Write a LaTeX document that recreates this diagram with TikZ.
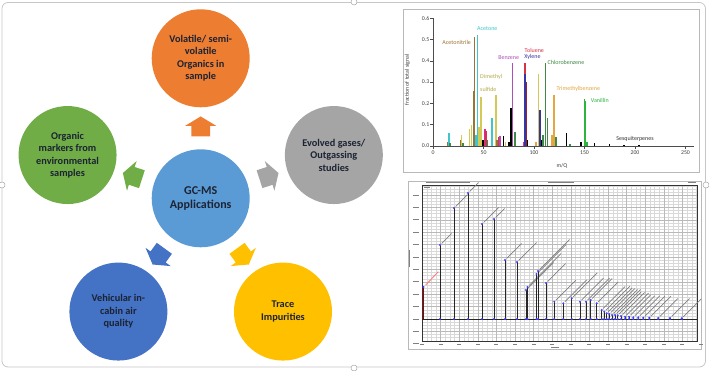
\documentclass[tikz,border=0pt]{standalone}
\usepackage{fontspec}
\setmainfont{Carlito}
\usepackage{tikz}
\usetikzlibrary{arrows,positioning,calc,shapes.arrows}

\definecolor{hubblue}{HTML}{5B9BD5}
\definecolor{orng}{HTML}{ED7D31}
\definecolor{grn}{HTML}{70AD47}
\definecolor{gry}{HTML}{A5A5A5}
\definecolor{dblue}{HTML}{4472C4}
\definecolor{gold}{HTML}{FFC000}
\definecolor{txt}{HTML}{1C2333}
%peak colours
\definecolor{pbrown}{HTML}{9A7430}
\definecolor{pcyan}{HTML}{3EC6CF}
\definecolor{pyell}{HTML}{D2CA55}
\definecolor{pmag}{HTML}{B04DB8}
\definecolor{ppink}{HTML}{E0289A}
\definecolor{pred}{HTML}{D43545}
\definecolor{pblue}{HTML}{3535A5}
\definecolor{pgreen}{HTML}{3E8A45}
\definecolor{plime}{HTML}{2DB43C}
\definecolor{porng}{HTML}{E3A640}

\tikzset{
    %Define style for circles
    topic/.style={
           circle,
           draw=none,
           minimum size=98pt,
           inner sep=0pt,
           font=\bfseries\fontsize{10.3}{12.4}\selectfont,
           text=txt,
           align=center,
           },
    hub/.style={
           topic,
           fill=hubblue,
           font=\bfseries\fontsize{12}{14}\selectfont,
           },
    %Define style for block arrows
    blockarrow/.style={
           single arrow,
           draw=none,
           inner xsep=0pt,
           inner ysep=9.15pt,
           minimum height=20pt,
           single arrow head extend=6.2pt,
           single arrow tip angle=118,
           },
    % spectrum and chromatogram
    bar/.style={line width=1.5pt},
    ticklbl/.style={font=\fontsize{5.8}{6}\selectfont, text=black!75, inner sep=1pt},
    speclbl/.style={font=\fontsize{6}{7}\selectfont, inner sep=0pt},
    chrom/.style={line width=0.6pt, black!85},
    blur/.style={line width=0.9pt, black!50},
    handle/.style={draw=gray!70, fill=white, line width=0.5pt},
}

\begin{document}
\begin{tikzpicture}[x=1pt,y=1pt,node distance=1cm]
\useasboundingbox (0,0) rectangle (709,370);
\draw[gray!45, line width=0.8pt, rounded corners=6pt] (2,3) rectangle (705.5,367.5);

 %nodes
\node[hub] (1) at (200.7,171.7) {GC-MS\\Applications};
\node[topic, fill=orng]  (2) at ($(1)+(90:140)$)  {Volatile/ semi-\\volatile\\Organics in\\sample};
\node[topic, fill=gry]   (3) at ($(1)+(18:140)$)  {Evolved gases/\\Outgassing\\studies};
\node[topic, fill=gold]  (4) at ($(1)+(306:140)$) {Trace\\Impurities};
\node[topic, fill=dblue] (5) at ($(1)+(234:140)$) {Vehicular in-\\cabin air\\quality};
\node[topic, fill=grn]   (6) at ($(1)+(162:140)$) {Organic\\markers from\\environmental\\samples};
\foreach \n/\ang/\col in {2/90/orng,3/18/gry,4/306/gold,5/234/dblue,6/162/grn}
  \node[blockarrow, fill=\col, rotate=\ang] (a\n) at ($(1)!0.493!(\n)$) {};

 %spectrum
\draw[gray!55, fill=white] (403,198) rectangle (699,361);
\begin{scope}[shift={(433,224)}, x=1.01pt, y=213pt]
  \foreach \m/\h/\c in {14.5/0.02/pbrown, 16/0.06/pcyan, 17/0.015/pgreen, 27/0.03/pbrown,
      28/0.05/pyell, 29.5/0.015/pgreen, 36/0.08/pyell, 38/0.10/pyell, 40.6/0.26/pbrown,
      41.3/0.51/pbrown, 42.5/0.05/pcyan, 44/0.52/pcyan, 45.5/0.09/pyell, 47.5/0.23/pyell,
      49.5/0.03/black, 51.5/0.08/ppink, 52.5/0.07/pred, 54/0.03/pgreen, 58.4/0.13/pcyan,
      62.4/0.24/pyell, 63.6/0.03/pbrown, 65.5/0.04/pred, 66.5/0.045/pmag, 69.6/0.045/black,
      72/0.02/pyell, 75/0.02/black, 77.2/0.18/black, 78.5/0.39/pmag, 81/0.065/pgreen,
      89.5/0.02/ppink, 91/0.39/pred, 91.3/0.34/pblue, 92.4/0.30/pred!70!black, 93.8/0.03/black,
      102/0.02/porng, 104.6/0.34/pyell, 105.8/0.17/pblue, 107.2/0.03/black, 109/0.05/pgreen,
      111.5/0.39/pgreen, 113.5/0.13/pgreen, 118/0.05/porng, 119.8/0.24/porng, 122/0.04/pgreen,
      132/0.06/black, 135.5/0.01/pgreen, 146.5/0.02/black, 150/0.22/plime, 151.2/0.21/plime,
      152.4/0.02/plime, 160/0.015/black, 174.6/0.008/black, 189/0.004/black, 204/0.004/black}
    \draw[bar, \c] (\m,0) -- (\m,\h);
  \draw[black!70, line width=0.4pt] (0,0.6) -- (0,0) -- (258,0);
  \foreach \v/\t in {0/0.0,0.1/0.1,0.2/0.2,0.3/0.3,0.4/0.4,0.5/0.5,0.6/0.6} {
    \draw[black!70, line width=0.4pt] (-2.5,\v) -- (0,\v);
    \node[ticklbl, anchor=east] (y\t) at (-2.5,\v) {\t};
  }
  \foreach \v in {0,50,...,250} {
    \draw[black!70, line width=0.4pt] (\v,0) -- (\v,-0.012);
    \node[ticklbl, anchor=north] (x\v) at (\v,-0.015) {\v};
  }
  \node[ticklbl, rotate=90] (ylab) at (-25.5,0.31) {fraction of total signal};
  \node[ticklbl] (xlab) at (127.7,-0.094) {m/Q};
\end{scope}
\node[speclbl, text=pbrown] (acn) at (456.7,327.7) {Acetonitrile};
\node[speclbl, text=pcyan]  (ace) at (487.3,341.7) {Acetone};
\node[speclbl, text=pyell!85!black, anchor=west] (dms1) at (480,292.7) {Dimethyl};
\node[speclbl, text=pyell!85!black, anchor=west] (dms2) at (480,281) {sulfide};
\node[speclbl, text=pmag]   (bnz) at (508.7,312.7) {Benzene};
\node[speclbl, text=pred]   (tol) at (534.3,320) {Toluene};
\node[speclbl, text=pblue]  (xyl) at (532.5,312.7) {Xylene};
\node[speclbl, text=pgreen] (clb) at (566,307.3) {Chlorobenzene};
\node[speclbl, text=porng]  (tmb) at (578.3,280.7) {Trimethylbenzene};
\node[speclbl, text=plime]  (van) at (599.8,269.3) {Vanillin};
\node[speclbl, text=black!80] (ses) at (635,230.7) {Sesquiterpenes};

 %chromatogram
\draw[gray!55, fill=white] (408,21) rectangle (701,189);
\begin{scope}[shift={(422,51)}]
  \draw[gray!30, line width=0.3pt, xstep=4.65, ystep=3.1] (0,-22) grid (275,134);
  \draw[gray!55, line width=0.4pt, xstep=18.6, ystep=12.4] (0,-22) grid (275,134);
\end{scope}
\draw[black!80, line width=0.5pt] (422,29) rectangle (697,185);
\draw[black!85, line width=0.6pt] (422,51) -- (697,51);
% title strip and axis texts (unreadable)
\draw[blur] (426,187.5) -- (470,187.5);
\draw[blur] (548,187.5) -- (574,187.5);
\draw[blur] (688,187.5) -- (696,187.5);
\draw[blur] (424,182.5) -- (430,182.5);
\foreach \k in {0,...,12}
  \draw[blur, line width=0.7pt] (413,{26.2+\k*12.4}) -- (419,{26.2+\k*12.4});
\foreach \k in {0,...,15}
  \draw[blur, line width=0.7pt] ({420+\k*18.6},25.5) -- ({424+\k*18.6},25.5);
\draw[blur, line width=0.7pt] (409.5,103) -- (409.5,120);
\draw[blur, line width=0.7pt] (551,22.5) -- (559,22.5);
% first peak
\draw[line width=1.2pt, red!60!black] (423.5,51) -- (423.5,83);
\draw[red!55, line width=0.8pt] (425.7,85) -- (438.3,98.3);
\fill[blue!75] (423.5,83) circle (1.1);
\foreach \px/\Y/\d in {440/125/10, 454/162/12, 468/177/9, 482/146/15, 494/151/9,
    505/110/15, 517/108/18, 526/80/26, 527.5/83/32, 536.5/96/28, 538/99/30, 546/87/18,
    554.3/68.3/20, 563.3/66.7/22, 571.7/71.7/24, 580/68.3/22, 586/68.3/22, 590.7/70/20,
    596.7/66.7/20, 601.7/60/22, 604.3/58.3/24, 606.7/56.7/24, 609.3/56/24, 612/55/24,
    615/55/24, 617.7/54.7/22, 621/54/22, 625/53.3/22, 629/53.3/20, 633.3/52.7/20,
    638.3/52.7/20, 643.3/52.3/20, 649.3/52.3/20, 658.3/52/18, 670/52/18, 681.7/51.7/18} {
  \draw[chrom] (\px,51) -- (\px,\Y);
  \draw[blur, line width=0.7pt] ({\px+1.5},{\Y+1.5}) -- ({\px+1.5+\d},{\Y+1.5+\d});
  \fill[blue!75] (\px,\Y) circle (1.1);
  \fill[blue!75] (\px,51) circle (1.1);
}

 %frame handles
\draw[handle] (354,368) circle (3);
\draw[handle] (354,2) circle (3);
\draw[handle] (2,185) circle (3);
\draw[handle] (706,185) circle (3);
\end{tikzpicture}
\end{document}
